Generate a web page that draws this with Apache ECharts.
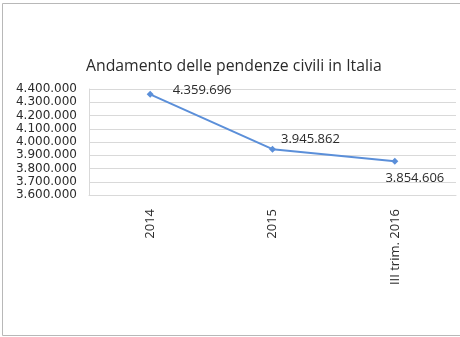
<!DOCTYPE html>
<html><head><meta charset="utf-8">
<script src="https://cdn.jsdelivr.net/npm/echarts@6/dist/echarts.min.js"></script>
<style>html,body{margin:0;padding:0;background:#fff}#c{width:460px;height:337px}</style>
</head><body><div id="c"></div>
<script>
var titleText = 'Andamento delle pendenze civili in Italia';
var categories = ['2014', '2015', 'III trim. 2016'];
var values = [4359696, 3945862, 3854606];
var yMin = 3600000, yMax = 4400000, yStep = 100000;

function fmt(v){ return String(v).replace(/\B(?=(\d{3})+(?!\d))/g, '.'); }

var labelCfg = [
  {position:'right', offset:[14,-4]},
  {position:'right', offset:[0,-10]},
  {position:'bottom', offset:[20,2]}
];

var chart = echarts.init(document.getElementById('c'), null, {renderer:'canvas'});
chart.setOption({
  animation:false,
  backgroundColor:'#fff',
  graphic:[{type:'rect', shape:{x:2.5,y:3.5,width:470,height:332}, style:{fill:'none', stroke:'#b8b8b8', lineWidth:1}}],
  title:{text:titleText, left:81, top:53, textStyle:{fontFamily:'Open Sans', fontSize:15.8, fontWeight:'normal', color:'#2b2b2b'}},
  grid:{left:89, right:4, top:89, bottom:142, containLabel:false},
  xAxis:{type:'category', data:categories, boundaryGap:true,
    axisLine:{lineStyle:{color:'#d9d9d9'}}, axisTick:{show:false},
    axisLabel:{rotate:90, margin:14, color:'#2b2b2b', fontFamily:'Open Sans', fontSize:13}},
  yAxis:{type:'value', min:yMin, max:yMax, interval:yStep,
    axisLine:{show:true, lineStyle:{color:'#d9d9d9'}}, axisTick:{show:false},
    splitLine:{lineStyle:{color:'#d9d9d9'}},
    axisLabel:{margin:12, color:'#2b2b2b', fontFamily:'DejaVu Sans', fontSize:12,
      showMinLabel:true, showMaxLabel:true, hideOverlap:false, formatter:fmt}},
  series:[{type:'line', data:values.map(function(v,i){return {value:v, label:labelCfg[i]};}),
    symbol:'diamond', symbolSize:7,
    lineStyle:{color:'#5b8fd9', width:2}, itemStyle:{color:'#5b8fd9'},
    label:{show:true, color:'#2b2b2b', fontFamily:'Open Sans', fontSize:13, formatter:function(p){return fmt(p.value);}}}]
});
</script></body></html>
